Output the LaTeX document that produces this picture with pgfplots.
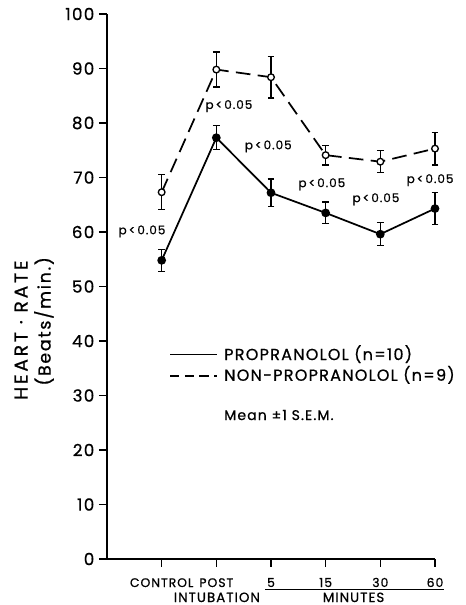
\documentclass[border=0pt]{standalone}
\usepackage{fontspec}
\setmainfont{Poppins}[FakeBold=0.8, LetterSpace=8]
\newfontfamily\ylabfont{Poppins}[FakeBold=0.8, LetterSpace=15]
\newfontfamily\ylabfontb{Poppins}[FakeBold=0.8, LetterSpace=10]
\usepackage{pgfplots}
\usepackage{pgfplotstable}
\pgfplotsset{compat=1.18}
\pgfplotstableread{
x y e
0 54.8 2.0
1 77.3 2.2
2 67.2 2.5
3 63.5 2.0
4 59.6 2.1
5 64.3 2.9
}\prop
\pgfplotstableread{
x y e
0 67.3 3.2
1 89.8 3.2
2 88.4 3.8
3 74.1 1.8
4 72.9 2.0
5 75.3 3.0
}\nonprop
\begin{document}
\begin{tikzpicture}
\useasboundingbox (-80.25pt,-34.5pt) rectangle (268.5pt,419.25pt);
\begin{axis}[
  scale only axis, width=246pt, height=408.75pt,
  xmin=-1, xmax=5, ymin=0, ymax=100,
  axis x line=bottom, axis y line=left,
  axis line style={-, line width=1.3pt},
  xtick={0,...,5}, xticklabels={CONTROL,POST,5,15,30,60},
  ytick={0,10,...,100},
  tick align=outside, major tick length=6pt,
  tick style={line width=1.1pt, black},
  /pgf/number format/assume math mode=true,
  yticklabel style={font=\fontsize{12.5}{14}\selectfont},
  xticklabel style={font=\fontsize{9.3}{11}\selectfont, anchor=base, yshift=-15pt},
  clip=false,
]
\addplot[black, line width=1.3pt, mark=*, mark size=2.6pt, mark options={solid, fill=black},
  error bars/.cd, y dir=both, y explicit,
  error bar style={line width=1pt, solid},
  error mark options={rotate=90, mark size=2.6pt, line width=1pt, solid}]
  table[x=x, y=y, y error=e] {\prop};
\addplot[black, line width=1.3pt, dash pattern=on 11pt off 5.5pt, mark=*, mark size=2.5pt, mark options={solid, fill=white, draw=black, line width=1pt},
  error bars/.cd, y dir=both, y explicit,
  error bar style={line width=1pt, solid},
  error mark options={rotate=90, mark size=2.6pt, line width=1pt, solid}]
  table[x=x, y=y, y error=e] {\nonprop};
\node[rotate=90, anchor=center, font=\ylabfont\fontsize{14}{16}\selectfont] at (axis description cs:-0.262,0.42) {HEART · RATE};
\node[rotate=90, anchor=center, font=\ylabfontb\fontsize{13}{15}\selectfont] at (axis description cs:-0.192,0.436) {(Beats/min.)};
\begin{scope}[every node/.style={font=\fontsize{9}{10}\selectfont}]
\node at (axis cs:-0.36,60.1) {p\,<\,0.05};
\node at (axis cs:1.23,83.1) {p\,<\,0.05};
\node at (axis cs:1.95,75.7) {p\,<\,0.05};
\node at (axis cs:2.93,68.75) {p\,<\,0.05};
\node at (axis cs:3.92,66.0) {p\,<\,0.05};
\node at (axis cs:4.91,69.5) {p\,<\,0.05};
\end{scope}
\draw[line width=1pt] (axis cs:0.155,37.5) -- (axis cs:1.015,37.5);
\draw[line width=1pt, dash pattern=on 7pt off 4pt] (axis cs:0.155,33.6) -- (axis cs:1.015,33.6);
\begin{scope}[every node/.style={font=\fontsize{12}{14}\selectfont, anchor=base west, inner sep=0pt}]
\node at (axis cs:1.14,36.5) {PROPRANOLOL (n=10)};
\node at (axis cs:1.14,32.7) {NON-PROPRANOLOL (n=9)};
\node[font=\fontsize{10.5}{12}\selectfont] at (axis cs:1.14,25.5) {Mean ±1 S.E.M.};
\node[anchor=base, font=\fontsize{10}{12}\selectfont] at (axis cs:1.01,-7.89) {INTUBATION};
\node[anchor=base, font=\fontsize{10}{12}\selectfont] at (axis cs:3.51,-7.89) {MINUTES};
\end{scope}
\draw[line width=1pt] (axis cs:1.895,-5.6) -- (axis cs:5.16,-5.6);
\end{axis}
\end{tikzpicture}
\end{document}
